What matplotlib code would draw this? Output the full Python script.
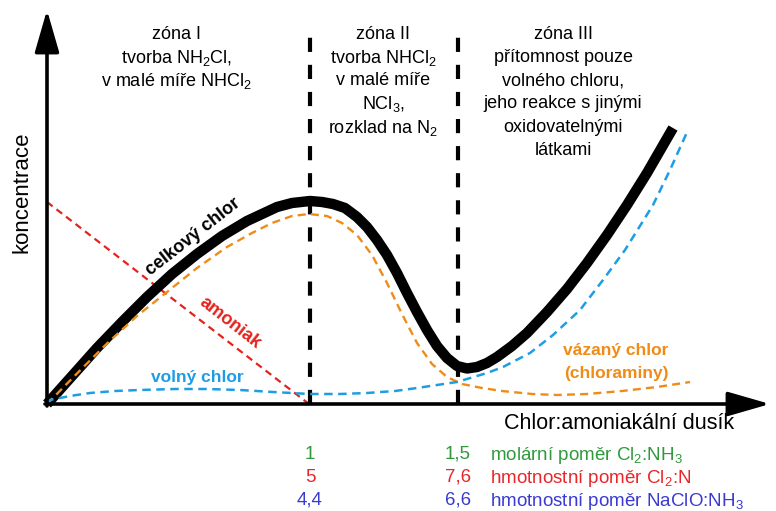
import matplotlib
matplotlib.use("Agg")
import matplotlib.pyplot as plt

plt.rcParams["font.family"] = ["Liberation Sans", "DejaVu Sans"]
plt.rcParams["mathtext.fontset"] = "custom"
plt.rcParams["mathtext.rm"] = "Liberation Sans"
plt.rcParams["mathtext.it"] = "Liberation Sans:italic"
plt.rcParams["mathtext.bf"] = "Liberation Sans:bold"

# ---------------------------------------------------------------------------
# Data (schematic units: x = chlorine:ammonia-N ratio axis, y = concentration)
# ---------------------------------------------------------------------------
total_x = [0, 0.25, 0.50, 0.75, 1.00, 1.25, 1.50, 1.75, 2.00, 2.15,
           2.30, 2.45, 2.63, 2.75, 2.86, 2.98, 3.10, 3.20, 3.30, 3.40,
           3.50, 3.60, 3.70, 3.80, 3.90, 4.00, 4.10, 4.20, 4.30, 4.40,
           4.50, 4.65, 4.80, 5.00, 5.20, 5.40, 5.60, 5.80, 6.00, 6.26]
total_y = [0, 0.28, 0.56, 0.82, 1.07, 1.30, 1.50, 1.68, 1.83, 1.90,
           1.97, 2.01, 2.03, 2.02, 2.00, 1.96, 1.87, 1.77, 1.64, 1.49,
           1.31, 1.11, 0.92, 0.74, 0.58, 0.46, 0.38, 0.355, 0.37, 0.41,
           0.47, 0.58, 0.71, 0.92, 1.15, 1.41, 1.69, 1.99, 2.31, 2.76]

bound_x = [0, 0.30, 0.60, 0.90, 1.20, 1.50, 1.80, 2.05, 2.25, 2.45,
           2.62, 2.80, 2.95, 3.10, 3.25, 3.40, 3.55, 3.70, 3.85, 4.00,
           4.15, 4.35, 4.55, 4.85, 5.10, 5.40, 5.75, 6.10, 6.43]
bound_y = [0, 0.305, 0.605, 0.88, 1.12, 1.36, 1.57, 1.71, 1.81, 1.88,
           1.90, 1.88, 1.81, 1.69, 1.49, 1.21, 0.90, 0.61, 0.40, 0.27,
           0.20, 0.16, 0.13, 0.10, 0.09, 0.10, 0.13, 0.17, 0.22]

free_x = [0, 0.03, 0.23, 0.43, 0.68, 0.93, 1.28, 1.60, 1.93, 2.26,
          2.63, 2.93, 3.20, 3.48, 3.70, 3.90, 4.10, 4.40, 4.56, 4.83,
          5.06, 5.33, 5.56, 5.78, 6.06, 6.23, 6.41]
free_y = [0, 0.04, 0.08, 0.11, 0.13, 0.14, 0.15, 0.15, 0.14, 0.12,
          0.10, 0.10, 0.11, 0.13, 0.16, 0.19, 0.22, 0.31, 0.37, 0.51,
          0.69, 0.94, 1.24, 1.54, 1.99, 2.34, 2.74]

ammonia_x = [0, 2.62]
ammonia_y = [2.02, 0]

zone_bounds = [2.63, 4.11]
zone_top = 3.77

zone_texts = [
    ["zóna I", "tvorba NH$_2$Cl,", "v malé míře NHCl$_2$"],
    ["zóna II", "tvorba NHCl$_2$", "v malé míře", "NCl$_3$,", "rozklad na N$_2$"],
    ["zóna III", "přítomnost pouze", "volného chloru,", "jeho reakce s jinými",
     "oxidovatelnými", "látkami"],
]
zone_centers = [1.29, 3.36, 5.16]

ratio_rows = [
    (["1", "1,5"], "molární poměr Cl$_2$:NH$_3$", "#2f9a3c"),
    (["5", "7,6"], "hmotnostní poměr Cl$_2$:N", "#e8262a"),
    (["4,4", "6,6"], "hmotnostní poměr NaClO:NH$_3$", "#3a3ad2"),
]

BLACK = "#000000"
ORANGE = "#ef8c18"
BLUE = "#1f9de4"
RED = "#e5221c"

# ---------------------------------------------------------------------------
# Figure
# ---------------------------------------------------------------------------
fig = plt.figure(figsize=(7.76, 5.11), dpi=100)
ax = fig.add_axes([0, 0, 1, 1])
ax.set_xlim(-0.47, 7.29)
ax.set_ylim(-1.07, 4.04)
ax.axis("off")

# zone boundaries
for xb in zone_bounds:
    ax.plot([xb, xb], [0, zone_top], color=BLACK, lw=3.0,
            dashes=(3.4, 3.1), solid_capstyle="butt", zorder=2)

# curves
ax.plot(ammonia_x, ammonia_y, color=RED, lw=1.6, dashes=(3.2, 2.2), zorder=3)
ax.plot(total_x, total_y, color=BLACK, lw=7.5, solid_capstyle="butt",
        solid_joinstyle="round", zorder=4)
ax.plot(bound_x, bound_y, color=ORANGE, lw=1.7, dashes=(3.4, 2.2), zorder=5)
ax.plot(free_x, free_y, color=BLUE, lw=1.8, dashes=(3.4, 2.2), zorder=5)

# axes arrows
arrow = dict(arrowstyle="-|>,head_length=2.6,head_width=0.75", lw=2.6,
             color=BLACK, mutation_scale=10, shrinkA=0, shrinkB=0)
ax.annotate("", xy=(0, 3.94), xytext=(0, -0.02), arrowprops=arrow, zorder=6)
ax.annotate("", xy=(7.23, 0), xytext=(-0.02, 0), arrowprops=arrow, zorder=6)

# zone descriptions
for cx, lines in zip(zone_centers, zone_texts):
    for i, line in enumerate(lines):
        ax.text(cx, 3.72 - i * 0.233, line, ha="center", va="center_baseline",
                fontsize=13, color=BLACK)

# axis labels
ax.text(-0.25, 2.12, "koncentrace", rotation=90, ha="center", va="center",
        fontsize=16)
ax.text(5.72, -0.19, "Chlor:amoniakální dusík", ha="center", va="center",
        fontsize=15.5)

# curve labels
ax.text(1.46, 1.67, "celkový chlor", rotation=38, ha="center", va="center",
        fontsize=13, fontweight="bold", color=BLACK, rotation_mode="anchor")
ax.text(1.83, 0.81, "amoniak", rotation=-38, ha="center", va="center",
        fontsize=13, fontweight="bold", color=RED, rotation_mode="anchor")
ax.text(1.50, 0.27, "volný chlor", ha="center", va="center",
        fontsize=12.5, fontweight="bold", color=BLUE)
ax.text(5.69, 0.54, "vázaný chlor", ha="center", va="center",
        fontsize=12.5, fontweight="bold", color=ORANGE)
ax.text(5.69, 0.31, "(chloraminy)", ha="center", va="center",
        fontsize=12.5, fontweight="bold", color=ORANGE)

# ratio table under the x axis
for i, (vals, label, col) in enumerate(ratio_rows):
    y = -0.48 - i * 0.23
    for xb, v in zip(zone_bounds, vals):
        ax.text(xb, y, v, ha="center", va="center_baseline", fontsize=13.5,
                color=col)
    ax.text(4.43, y, label, ha="left", va="center_baseline", fontsize=13.5,
            color=col)

fig.savefig("out.png", dpi=100)
plt.close(fig)
